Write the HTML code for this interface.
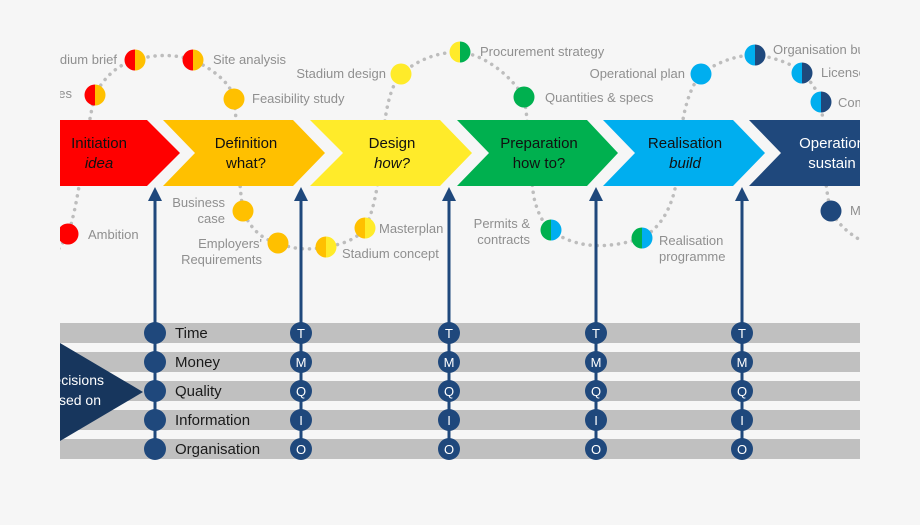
<!DOCTYPE html>
<html><head><meta charset="utf-8"><style>
html,body{margin:0;padding:0;background:#f6f6f6;}
svg{display:block;font-family:"Liberation Sans",sans-serif;}
.l{fill:#8f8f8f;font-size:13px;}
.c{font-size:15px;fill:#111;text-anchor:middle;}
.b{font-size:15px;fill:#1a1a1a;}
.w{fill:#fff;font-size:13px;text-anchor:middle;}
</style></head><body>
<svg width="920" height="525" viewBox="0 0 920 525">
<defs><clipPath id="cp"><rect x="60" y="0" width="800" height="525"/></clipPath></defs>
<g clip-path="url(#cp)">
<path fill="none" stroke="#bdbdbd" stroke-width="3.5" stroke-dasharray="0.1 7" stroke-linecap="round" d="M40,270 C55,255 62,245 68,234 C80,200 84,140 95,95 C105,75 120,64 135,60 C155,54 175,54 193,60 C215,70 232,85 234,99 C238,130 238,180 243,211 C250,228 262,240 278,243 C295,250 310,250 326,247 C345,244 358,238 365,228 C380,200 382,140 385,120 C388,100 392,85 401,74 C420,58 440,52 460,52 C485,55 510,75 524,97 C530,130 530,190 536,205 C540,218 545,225 551,230 C570,245 600,252 642,238 C665,225 675,200 678,170 C680,130 684,95 701,74 C720,60 740,55 755,55 C775,57 795,65 802,73 C812,82 818,92 821,102 C825,130 822,180 831,211 C840,228 855,238 870,245"/>
<polygon points="40,120 147,120 180,153 147,186 40,186" fill="#ff0000"/>
<polygon points="163,120 293,120 325,153 293,186 163,186 195,153" fill="#ffc000"/>
<polygon points="310,120 440,120 472,153 440,186 310,186 343,153" fill="#ffeb2a"/>
<polygon points="457,120 587,120 618,153 587,186 457,186 489,153" fill="#00b04f"/>
<polygon points="603,120 733,120 765,153 733,186 603,186 635,153" fill="#00aeef"/>
<polygon points="749,120 900,120 900,186 749,186 781,153" fill="#1f487c"/>
<text class="c" x="99" y="148">Initiation</text><text class="c" x="99" y="168" font-style="italic">idea</text>
<text class="c" x="246" y="148">Definition</text><text class="c" x="246" y="168">what?</text>
<text class="c" x="392" y="148">Design</text><text class="c" x="392" y="168" font-style="italic">how?</text>
<text class="c" x="539" y="148">Preparation</text><text class="c" x="539" y="168">how to?</text>
<text class="c" x="685" y="148">Realisation</text><text class="c" x="685" y="168" font-style="italic">build</text>
<text class="c" x="832" y="148" style="fill:#fff">Operation</text><text class="c" x="832" y="168" style="fill:#fff">sustain</text>
<g fill="#c0c0c0">
<rect x="60" y="323" width="800" height="20"/><rect x="60" y="352" width="800" height="20"/>
<rect x="60" y="381" width="800" height="20"/><rect x="60" y="410" width="800" height="20"/>
<rect x="60" y="439" width="800" height="20"/></g>
<polygon points="60,343 143,392 60,441" fill="#17365d"/>
<text x="104" y="385" fill="#fff" font-size="14" text-anchor="end">Decisions</text>
<text x="101" y="405" fill="#fff" font-size="14" text-anchor="end">based on</text>
<g stroke="#1f487c" stroke-width="3">
<line x1="155" y1="198" x2="155" y2="449"/><line x1="301" y1="198" x2="301" y2="449"/>
<line x1="449" y1="198" x2="449" y2="449"/><line x1="596" y1="198" x2="596" y2="449"/>
<line x1="742" y1="198" x2="742" y2="449"/></g>
<g fill="#1f487c">
<polygon points="148,201 155,187 162,201"/><polygon points="294,201 301,187 308,201"/>
<polygon points="442,201 449,187 456,201"/><polygon points="589,201 596,187 603,201"/>
<polygon points="735,201 742,187 749,201"/>
<circle cx="155" cy="333" r="11"/><circle cx="155" cy="362" r="11"/><circle cx="155" cy="391" r="11"/><circle cx="155" cy="420" r="11"/><circle cx="155" cy="449" r="11"/>
<circle cx="301" cy="333" r="11"/><circle cx="301" cy="362" r="11"/><circle cx="301" cy="391" r="11"/><circle cx="301" cy="420" r="11"/><circle cx="301" cy="449" r="11"/>
<circle cx="449" cy="333" r="11"/><circle cx="449" cy="362" r="11"/><circle cx="449" cy="391" r="11"/><circle cx="449" cy="420" r="11"/><circle cx="449" cy="449" r="11"/>
<circle cx="596" cy="333" r="11"/><circle cx="596" cy="362" r="11"/><circle cx="596" cy="391" r="11"/><circle cx="596" cy="420" r="11"/><circle cx="596" cy="449" r="11"/>
<circle cx="742" cy="333" r="11"/><circle cx="742" cy="362" r="11"/><circle cx="742" cy="391" r="11"/><circle cx="742" cy="420" r="11"/><circle cx="742" cy="449" r="11"/>
</g>
<text class="w" x="301" y="338">T</text><text class="w" x="301" y="367">M</text><text class="w" x="301" y="396">Q</text><text class="w" x="301" y="425">I</text><text class="w" x="301" y="454">O</text>
<text class="w" x="449" y="338">T</text><text class="w" x="449" y="367">M</text><text class="w" x="449" y="396">Q</text><text class="w" x="449" y="425">I</text><text class="w" x="449" y="454">O</text>
<text class="w" x="596" y="338">T</text><text class="w" x="596" y="367">M</text><text class="w" x="596" y="396">Q</text><text class="w" x="596" y="425">I</text><text class="w" x="596" y="454">O</text>
<text class="w" x="742" y="338">T</text><text class="w" x="742" y="367">M</text><text class="w" x="742" y="396">Q</text><text class="w" x="742" y="425">I</text><text class="w" x="742" y="454">O</text>
<text class="b" x="175" y="338">Time</text><text class="b" x="175" y="367">Money</text>
<text class="b" x="175" y="396">Quality</text><text class="b" x="175" y="425">Information</text>
<text class="b" x="175" y="454">Organisation</text>
<circle cx="68" cy="234" r="10.5" fill="#ff0000"/>
<path d="M95,84.5 A10.5,10.5 0 0 0 95,105.5Z" fill="#ff0000"/><path d="M95,84.5 A10.5,10.5 0 0 1 95,105.5Z" fill="#ffc000"/>
<path d="M135,49.5 A10.5,10.5 0 0 0 135,70.5Z" fill="#ff0000"/><path d="M135,49.5 A10.5,10.5 0 0 1 135,70.5Z" fill="#ffc000"/>
<path d="M193,49.5 A10.5,10.5 0 0 0 193,70.5Z" fill="#ff0000"/><path d="M193,49.5 A10.5,10.5 0 0 1 193,70.5Z" fill="#ffc000"/>
<circle cx="234" cy="99" r="10.5" fill="#ffc000"/>
<circle cx="243" cy="211" r="10.5" fill="#ffc000"/>
<circle cx="278" cy="243" r="10.5" fill="#ffc000"/>
<path d="M326,236.5 A10.5,10.5 0 0 0 326,257.5Z" fill="#ffc000"/><path d="M326,236.5 A10.5,10.5 0 0 1 326,257.5Z" fill="#ffeb2a"/>
<path d="M365,217.5 A10.5,10.5 0 0 0 365,238.5Z" fill="#ffc000"/><path d="M365,217.5 A10.5,10.5 0 0 1 365,238.5Z" fill="#ffeb2a"/>
<circle cx="401" cy="74" r="10.5" fill="#ffeb2a"/>
<path d="M460,41.5 A10.5,10.5 0 0 0 460,62.5Z" fill="#ffeb2a"/><path d="M460,41.5 A10.5,10.5 0 0 1 460,62.5Z" fill="#00b04f"/>
<circle cx="524" cy="97" r="10.5" fill="#00b04f"/>
<path d="M551,219.5 A10.5,10.5 0 0 0 551,240.5Z" fill="#00b04f"/><path d="M551,219.5 A10.5,10.5 0 0 1 551,240.5Z" fill="#00aeef"/>
<path d="M642,227.5 A10.5,10.5 0 0 0 642,248.5Z" fill="#00b04f"/><path d="M642,227.5 A10.5,10.5 0 0 1 642,248.5Z" fill="#00aeef"/>
<circle cx="701" cy="74" r="10.5" fill="#00aeef"/>
<path d="M755,44.5 A10.5,10.5 0 0 0 755,65.5Z" fill="#00aeef"/><path d="M755,44.5 A10.5,10.5 0 0 1 755,65.5Z" fill="#1f487c"/>
<path d="M802,62.5 A10.5,10.5 0 0 0 802,83.5Z" fill="#00aeef"/><path d="M802,62.5 A10.5,10.5 0 0 1 802,83.5Z" fill="#1f487c"/>
<path d="M821,91.5 A10.5,10.5 0 0 0 821,112.5Z" fill="#00aeef"/><path d="M821,91.5 A10.5,10.5 0 0 1 821,112.5Z" fill="#1f487c"/>
<circle cx="831" cy="211" r="10.5" fill="#1f487c"/>
<text class="l" x="117" y="64" text-anchor="end">Stadium brief</text>
<text class="l" x="72" y="98" text-anchor="end">Values</text>
<text class="l" x="88" y="239">Ambition</text>
<text class="l" x="213" y="64">Site analysis</text>
<text class="l" x="252" y="103">Feasibility study</text>
<text class="l" x="225" y="207" text-anchor="end">Business</text><text class="l" x="225" y="223" text-anchor="end">case</text>
<text class="l" x="262" y="248" text-anchor="end">Employers'</text><text class="l" x="262" y="264" text-anchor="end">Requirements</text>
<text class="l" x="342" y="258">Stadium concept</text>
<text class="l" x="379" y="233">Masterplan</text>
<text class="l" x="386" y="78" text-anchor="end">Stadium design</text>
<text class="l" x="480" y="56">Procurement strategy</text>
<text class="l" x="545" y="102">Quantities &amp; specs</text>
<text class="l" x="530" y="228" text-anchor="end">Permits &amp;</text><text class="l" x="530" y="244" text-anchor="end">contracts</text>
<text class="l" x="659" y="245">Realisation</text><text class="l" x="659" y="261">programme</text>
<text class="l" x="685" y="78" text-anchor="end">Operational plan</text>
<text class="l" x="773" y="54">Organisation build</text>
<text class="l" x="821" y="77">Licenses</text>
<text class="l" x="838" y="107">Commissioning</text>
<text class="l" x="850" y="215">Maintenance</text>
</g>
</svg>
</body></html>
